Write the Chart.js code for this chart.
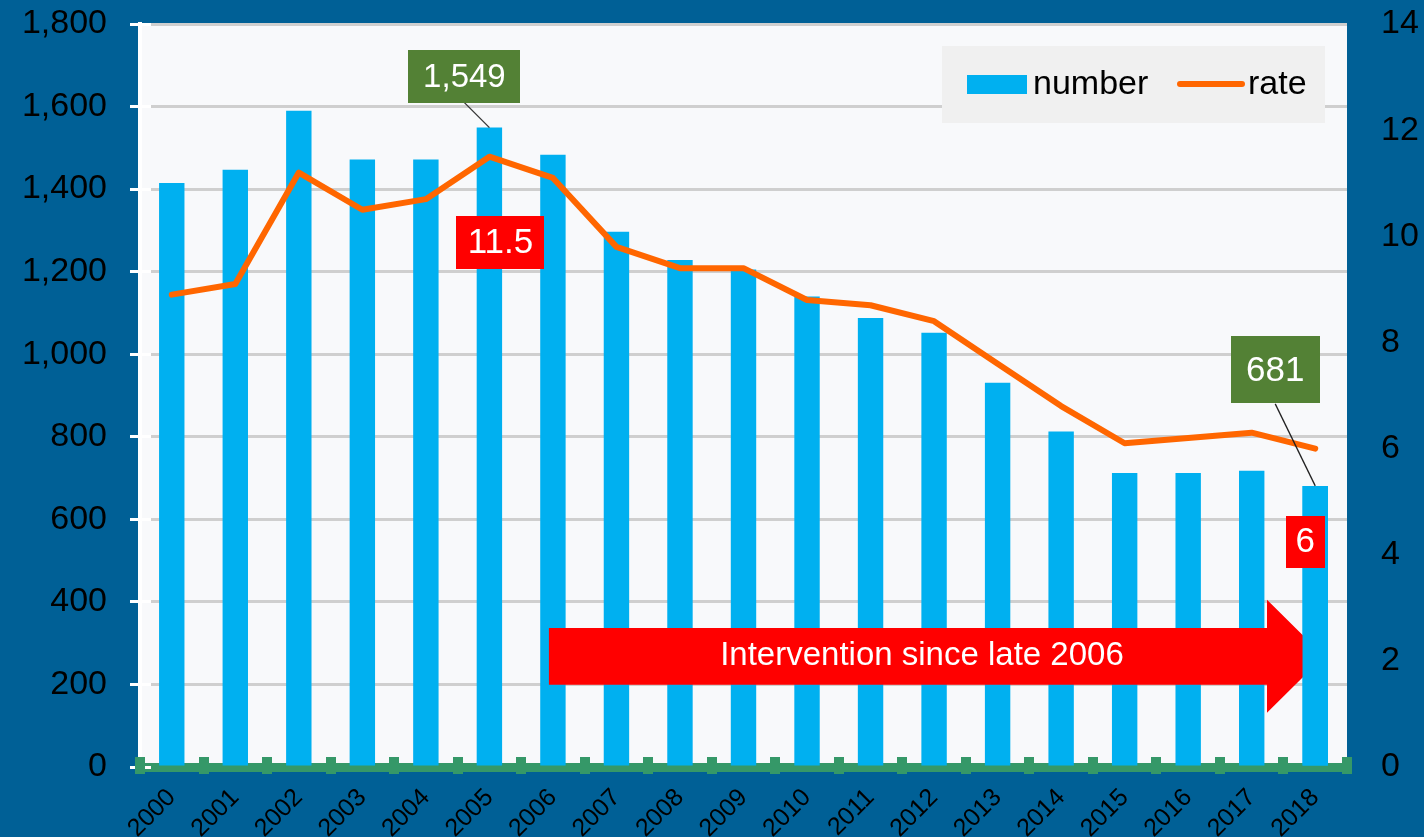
<!DOCTYPE html>
<html><head><meta charset="utf-8">
<script src="https://cdn.jsdelivr.net/npm/chart.js@4.4.1/dist/chart.umd.min.js"></script>
<style>html,body{margin:0;padding:0;background:#006096;overflow:hidden}canvas{display:block}</style>
</head><body>
<canvas id="c" width="1424" height="837"></canvas>
<script>
// ---- data ----
const years = ['2000','2001','2002','2003','2004','2005','2006','2007','2008','2009','2010','2011','2012','2013','2014','2015','2016','2017','2018'];
const numbers = [1415,1447,1590,1472,1472,1549,1483,1297,1228,1205,1140,1088,1052,931,813,712,712,718,681];
const rates = [8.9,9.1,11.2,10.5,10.7,11.5,11.1,9.8,9.4,9.4,8.8,8.7,8.4,7.6,6.8,6.1,6.2,6.3,6.0];
const leftAxis = {min:0, max:1800, step:200};
const rightAxis = {min:0, max:14, step:2};
const seriesNames = ['number','rate'];
const interventionText = 'Intervention since late 2006';
const interventionStartIndex = 6;
const highlightIndexes = [5, 18];

const FONT = 'Liberation Sans, Arial, sans-serif';
const BLUE_BG = '#006096', PLOT_BG = '#f8f9fb';
const BAR = '#00b0f0', LINE = '#ff6600', GREEN_BOX = '#538135', RED = '#ff0000', AXIS_GREEN = '#359868';

function box(ctx, cx, cy, w, h, fill, text, size){
  ctx.fillStyle = fill;
  ctx.fillRect(Math.round(cx - w/2), Math.round(cy - h/2), w, h);
  ctx.fillStyle = '#ffffff';
  ctx.font = size + 'px ' + FONT;
  ctx.textAlign = 'center';
  ctx.textBaseline = 'middle';
  ctx.fillText(text, cx, cy + 1);
}

const decor = {
  id: 'decor',
  beforeDraw(chart){
    const {ctx, chartArea:a} = chart;
    ctx.save();
    ctx.fillStyle = BLUE_BG; ctx.fillRect(0,0,chart.width,chart.height);
    ctx.fillStyle = PLOT_BG; ctx.fillRect(a.left, a.top, a.right-a.left, a.bottom-a.top);
    ctx.restore();
  },
  beforeDatasetsDraw(chart){
    const {ctx, chartArea:a, scales} = chart;
    const y = scales.y;
    ctx.save();
    // white tick stubs just inside the left axis
    ctx.fillStyle = '#ffffff';
    for (let v = leftAxis.min; v <= leftAxis.max; v += leftAxis.step){
      const py = y.getPixelForValue(v);
      ctx.fillRect(a.left, Math.round(py - 1.5), 11, 3);
    }
    ctx.restore();
  },
  afterDatasetsDraw(chart){
    const {ctx, chartArea:a, scales} = chart;
    const x = scales.x, y = scales.y, y1 = scales.y1;
    ctx.save();
    // intervention arrow
    const x0 = x.getPixelForValue(interventionStartIndex) - 4;
    const xh = a.right - 80, xt = a.right - 23;
    const bt = y1.getPixelForValue(2.62), bb = y1.getPixelForValue(1.55);
    const ht = y1.getPixelForValue(3.15), hb = y1.getPixelForValue(1.02);
    const tipY = (bt + bb) / 2;
    ctx.fillStyle = RED;
    ctx.beginPath();
    ctx.moveTo(x0, bt); ctx.lineTo(xh, bt); ctx.lineTo(xh, ht); ctx.lineTo(xt, tipY);
    ctx.lineTo(xh, hb); ctx.lineTo(xh, bb); ctx.lineTo(x0, bb); ctx.closePath(); ctx.fill();
    ctx.fillStyle = '#ffffff';
    ctx.font = '33px ' + FONT; ctx.textAlign = 'center'; ctx.textBaseline = 'middle';
    ctx.fillText(interventionText, (x0 + xh) / 2 + 14, tipY);
    // last bar sits over the arrow head
    const barMeta = chart.getDatasetMeta(1);
    barMeta.data[numbers.length - 1].draw(ctx);

    // callouts
    const i1 = highlightIndexes[0], i2 = highlightIndexes[1];
    const bx1 = x.getPixelForValue(i1), by1 = y.getPixelForValue(numbers[i1]);
    ctx.strokeStyle = '#333'; ctx.lineWidth = 1.3;
    ctx.beginPath(); ctx.moveTo(bx1 - 25, by1 - 25); ctx.lineTo(bx1, by1); ctx.stroke();
    box(ctx, bx1 - 25, by1 - 51, 112, 53, GREEN_BOX, numbers[i1].toLocaleString('en-US'), 33);
    const ry1 = y1.getPixelForValue(rates[i1]);
    box(ctx, bx1 + 11, ry1 + 86, 88, 53, RED, String(rates[i1]), 35);

    const bx2 = x.getPixelForValue(i2), by2 = y.getPixelForValue(numbers[i2]);
    ctx.strokeStyle = '#222'; ctx.lineWidth = 1.3;
    ctx.beginPath(); ctx.moveTo(bx2 - 40, by2 - 82); ctx.lineTo(bx2, by2); ctx.stroke();
    box(ctx, bx2 - 40, by2 - 116, 89, 67, GREEN_BOX, numbers[i2].toLocaleString('en-US'), 35);
    const ry2 = y1.getPixelForValue(rates[i2]);
    box(ctx, bx2 - 10, ry2 + 93, 39, 52, RED, String(rates[i2]), 35);
    ctx.restore();
  },
  afterDraw(chart){
    const {ctx, chartArea:a, scales} = chart;
    const x = scales.x;
    ctx.save();
    // green baseline bumps at category boundaries
    const step = x.getPixelForValue(1) - x.getPixelForValue(0);
    ctx.fillStyle = AXIS_GREEN;
    for (let i = 0; i <= years.length; i++){
      const bxp = x.getPixelForValue(0) - step/2 + i*step;
      ctx.fillRect(Math.round(bxp - 5), a.bottom - 10, 10, 17);
    }
    // legend
    const lx = a.right - 405, ly = a.top + 22, lw = 383, lh = 77;
    ctx.fillStyle = '#f0f0f0'; ctx.fillRect(lx, ly, lw, lh);
    ctx.fillStyle = BAR; ctx.fillRect(lx + 25, ly + 29, 60, 19);
    ctx.fillStyle = '#000'; ctx.font = '34px ' + FONT; ctx.textAlign = 'left'; ctx.textBaseline = 'middle';
    ctx.fillText(seriesNames[0], lx + 91, ly + 39);
    ctx.strokeStyle = LINE; ctx.lineWidth = 6; ctx.lineCap = 'round';
    ctx.beginPath(); ctx.moveTo(lx + 238, ly + 38); ctx.lineTo(lx + 300, ly + 38); ctx.stroke();
    ctx.fillText(seriesNames[1], lx + 306, ly + 39);
    ctx.restore();
  }
};

function noVPad(s){ s.paddingTop = 0; s.paddingBottom = 0; }

new Chart(document.getElementById('c'), {
  data: {
    labels: years,
    datasets: [
      { type:'line', label: seriesNames[1], data: rates, yAxisID:'y1', borderColor: LINE, borderWidth: 6,
        pointRadius: 0, tension: 0, order: 0, borderJoinStyle:'round', borderCapStyle:'round' },
      { type:'bar', label: seriesNames[0], data: numbers, yAxisID:'y', backgroundColor: BAR,
        barPercentage: 0.4, categoryPercentage: 1, order: 1 }
    ]
  },
  options: {
    responsive: false, animation: false, devicePixelRatio: 1,
    layout: { padding: { top: 24, left: 0, right: 0, bottom: 0 } },
    plugins: { legend: { display: false }, tooltip: { enabled: false } },
    scales: {
      x: {
        offset: true, z: 1,
        grid: { display: true, drawOnChartArea: false, drawTicks: false, color: AXIS_GREEN },
        border: { display: true, color: AXIS_GREEN, width: 9 },
        ticks: { autoSkip: false, minRotation: 45, maxRotation: 45, padding: 16, color: '#000',
                 font: { family: FONT, size: 25 } },
        afterFit(s){ s.height = 70; s.paddingLeft = 0; s.paddingRight = 0; }
      },
      y: {
        position: 'left', min: leftAxis.min, max: leftAxis.max,
        ticks: { stepSize: leftAxis.step, color: '#000', padding: 23, font: { family: FONT, size: 34 } },
        grid: { color: '#cfcfcf', lineWidth: 3, tickColor: '#ffffff', tickLength: 10, tickWidth: 3 },
        border: { display: true, color: '#ffffff', width: 4 },
        afterFit(s){ s.width = 140; noVPad(s); }
      },
      y1: {
        position: 'right', min: rightAxis.min, max: rightAxis.max,
        ticks: { stepSize: rightAxis.step, color: '#000', padding: 34, font: { family: FONT, size: 34 } },
        grid: { display: false, drawTicks: false },
        border: { display: false },
        afterFit(s){ s.width = 77; noVPad(s); }
      }
    }
  },
  plugins: [decor]
});
</script>
</body></html>
